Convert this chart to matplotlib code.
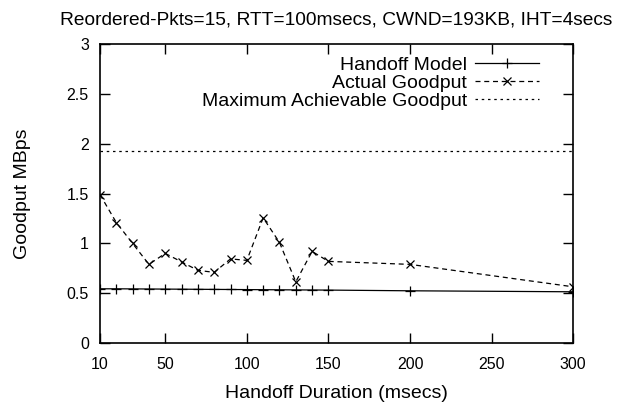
#!/usr/bin/env python3

# Goodput vs handoff duration, redrawn in the gnuplot look of the original.

import matplotlib
matplotlib.use("Agg")
import matplotlib.pyplot as plt

# Handoff durations (msecs)
handoffMs = [10, 20, 30, 40, 50, 60, 70, 80, 90, 100, 110, 120, 130, 140,
             150, 200, 300]

# Goodput predicted by the handoff model (MBps)
modelGoodput = [0.545, 0.545, 0.544, 0.543, 0.542, 0.541, 0.540, 0.539,
                0.538, 0.537, 0.536, 0.535, 0.534, 0.533, 0.532, 0.525,
                0.515]

# Measured goodput (MBps)
actualGoodput = [1.49, 1.21, 1.00, 0.79, 0.90, 0.815, 0.73, 0.71, 0.845,
                 0.83, 1.257, 1.01, 0.615, 0.92, 0.82, 0.79, 0.565]

# Maximum achievable goodput (MBps)
maxGoodput = 1.93

xTicks = [10, 50, 100, 150, 200, 250, 300]
yTicks = [0, 0.5, 1, 1.5, 2, 2.5, 3]
yTickLabels = ["0", "0.5", "1", "1.5", "2", "2.5", "3"]

plt.rcParams["font.family"] = ["Liberation Sans", "DejaVu Sans"]
plt.rcParams["font.size"] = 11.5

figure = plt.figure(figsize=(6.21, 4.08), dpi=100)
axes = figure.add_axes([0.161, 0.159, 0.762, 0.733])

axes.plot(handoffMs, modelGoodput, color="black", linewidth=0.9,
          linestyle="-", marker="+", markersize=6.5, markeredgewidth=0.9,
          label="Handoff Model")
axes.plot(handoffMs, actualGoodput, color="black", linewidth=0.9,
          linestyle=(0, (4, 3)), marker="x", markersize=6,
          markeredgewidth=0.9, label="Actual Goodput")
axes.axhline(maxGoodput, color="black", linewidth=0.9,
             linestyle=(0, (2, 3)), label="Maximum Achievable Goodput")

axes.set_xlim(10, 300)
axes.set_ylim(0, 3)
axes.set_xticks(xTicks)
axes.set_yticks(yTicks)
axes.set_yticklabels(yTickLabels)
axes.tick_params(axis="x", direction="in", top=True, length=7, width=1,
                 pad=10)
axes.tick_params(axis="y", direction="in", right=True, length=7, width=1,
                 pad=8)
for spine in axes.spines.values():
    spine.set_linewidth(1.2)

axes.set_xlabel("Handoff Duration (msecs)", fontsize=14, labelpad=9)
axes.set_ylabel("Goodput MBps", fontsize=14, labelpad=26)
axes.set_title("Reordered-Pkts=15, RTT=100msecs, CWND=193KB, IHT=4secs",
               pad=14)

# gnuplot-style key: text right-aligned, sample to the right
axes.legend(loc="upper right", frameon=False, markerfirst=False,
            fontsize=14, handlelength=3.3, handletextpad=0.4,
            labelspacing=0.05, borderpad=0.0, borderaxespad=0.0,
            handleheight=0.5, bbox_to_anchor=(0.928, 0.958))

figure.savefig("out.png", dpi=100)
